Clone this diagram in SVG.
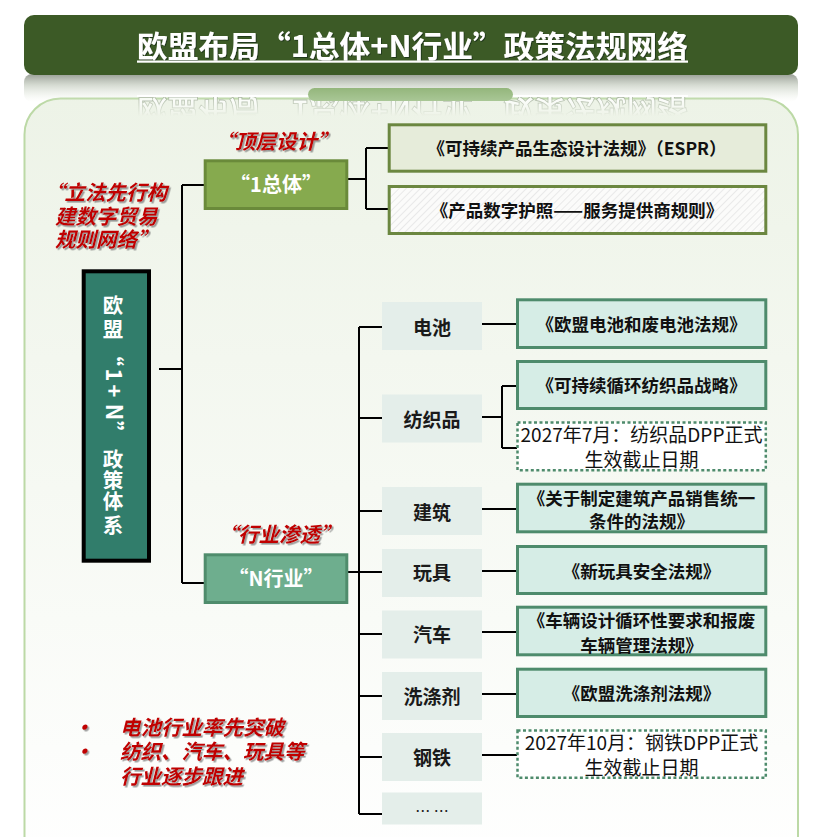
<svg xmlns="http://www.w3.org/2000/svg" width="826" height="837" viewBox="0 0 826 837">
<defs>
<linearGradient id="panelG" x1="0" y1="0" x2="0" y2="1">
<stop offset="0" stop-color="#edf3e7"/>
<stop offset="1" stop-color="#ffffff"/>
</linearGradient>
<linearGradient id="shadowG" x1="0" y1="0" x2="0" y2="1">
<stop offset="0" stop-color="#8e948a" stop-opacity="0.9"/>
<stop offset="0.4" stop-color="#c4ccbf" stop-opacity="0.7"/>
<stop offset="1" stop-color="#e6ede0" stop-opacity="0"/>
</linearGradient>
<linearGradient id="reflG" x1="0" y1="0" x2="0" y2="1">
<stop offset="0" stop-color="#fff" stop-opacity="0.95"/>
<stop offset="1" stop-color="#fff" stop-opacity="0"/>
</linearGradient>
<linearGradient id="pillG" x1="0" y1="0" x2="0" y2="1">
<stop offset="0" stop-color="#94b67c"/>
<stop offset="1" stop-color="#a9c796"/>
</linearGradient>
<mask id="reflM" maskUnits="userSpaceOnUse" x="0" y="0" width="826" height="837">
<rect x="0" y="97" width="826" height="19" fill="url(#reflG)"/>
</mask>
<pattern id="hatch" patternUnits="userSpaceOnUse" width="5" height="5" patternTransform="rotate(45)">
<rect width="5" height="5" fill="#fbfbfa"/>
<line x1="0" y1="0" x2="0" y2="5" stroke="#d8d8d8" stroke-width="1"/>
</pattern>
<filter id="sh" x="-10%" y="-20%" width="130%" height="150%">
<feDropShadow dx="1.6" dy="1.6" stdDeviation="0.6" flood-color="#7a7a7a" flood-opacity="0.75"/>
</filter>
<filter id="tsh" x="-5%" y="-20%" width="110%" height="150%">
<feDropShadow dx="1" dy="1" stdDeviation="0.5" flood-color="#1d2e12" flood-opacity="0.8"/>
</filter>
</defs>
<style>
text { font-family: "Noto Sans CJK SC", "Noto Sans", sans-serif; }
.law { font-size: 17.5px; font-weight: bold; fill: #111; text-anchor: middle; }
.note { font-size: 19px; font-weight: normal; fill: #111; text-anchor: middle; }
.cat { font-size: 19px; font-weight: bold; fill: #1a1a1a; text-anchor: middle; }
.red { font-size: 20.5px; font-weight: bold; font-style: italic; fill: #c00000; filter: url(#sh); }
.wt { font-weight: bold; fill: #ffffff; text-anchor: middle; }
.catbox { fill: #e4eeea; }
.lawbox { fill: #d6ede6; stroke: #4e8b6c; stroke-width: 3; }
.dotbox { fill: #ffffff; stroke: #4e8b6c; stroke-width: 2.5; stroke-dasharray: 3 2.5; }
.olive { stroke: #6b8740; stroke-width: 3; }
.conn { stroke: #000; stroke-width: 2; fill: none; }
.tick { stroke: #9a9a9a; stroke-width: 2; }
</style>

<!-- panel -->
<rect x="24.5" y="98.5" width="773.5" height="780" rx="36" fill="url(#panelG)" stroke="#bcd9a6" stroke-width="2"/>
<!-- shadow/reflection of title bar -->
<rect x="24" y="74" width="774" height="28" rx="8" fill="url(#shadowG)"/>
<line x1="137" y1="96" x2="688" y2="96" stroke="#ffffff" stroke-width="2"/>
<g mask="url(#reflM)">
<text x="137" y="57" textLength="551" lengthAdjust="spacingAndGlyphs" transform="translate(0,157) scale(1,-1)" font-size="30" font-weight="bold" fill="#ffffff" stroke="#aab5a3" stroke-width="0.8">欧盟布局“1总体+N行业”政策法规网络</text>
</g>
<rect x="308" y="88" width="205" height="13" rx="6.5" fill="url(#pillG)"/>

<!-- title bar -->
<g id="title">
<rect x="24" y="15" width="774" height="60" rx="10" fill="#3c5a26"/>
<text x="137" y="56.5" textLength="551" lengthAdjust="spacingAndGlyphs" font-size="30" font-weight="bold" fill="#ffffff" filter="url(#tsh)">欧盟布局“1总体+N行业”政策法规网络</text>
<rect x="137" y="60.5" width="551" height="2.2" fill="#ffffff"/>
</g>

<!-- connectors -->
<g id="connectors">
<path class="conn" d="M159,369 H182 M182,185 V583 M182,185 H205 M182,583 H205"/>
<path class="conn" d="M348,179 H366 M366,148 V209 M366,148 H389 M366,209 H389"/>
<path class="conn" d="M348,572 H359 M359,327 V814 M359,327 H382 M359,418 H382 M359,511 H382 M359,572 H382 M359,634 H382 M359,696 H382 M359,757 H382 M359,814 H382"/>
<path class="conn" d="M482,324 H517 M482,417 H502 M502,386 V448 M502,386 H517 M502,448 H517 M482,509 H517 M482,571 H517 M482,632 H517 M482,694 H517 M482,755 H517"/>
<path class="tick" d="M477,324 H482 M477,417 H482 M477,509 H482 M477,571 H482 M477,632 H482 M477,694 H482 M477,755 H482"/>
</g>

<!-- root -->
<g id="root">
<rect x="83.7" y="271.3" width="65.3" height="289.4" fill="#317d6b" stroke="#000" stroke-width="4"/>
<g class="wt" font-size="20.5">
<text x="113" y="313">欧</text>
<text x="113" y="337">盟</text>
<text transform="translate(113,355) rotate(90)" y="8" font-size="22">“</text>
<text transform="translate(113,375) rotate(90)" y="7.5" font-size="22">1</text>
<text transform="translate(113,391) rotate(90)" y="7.5" font-size="22">+</text>
<text transform="translate(113,412) rotate(90)" y="7.5" font-size="22">N</text>
<text transform="translate(113,432) rotate(90)" y="8" font-size="22">”</text>
<text x="113" y="466.5">政</text>
<text x="113" y="487.5">策</text>
<text x="113" y="508.5">体</text>
<text x="113" y="533">系</text>
</g>
</g>

<!-- red annotations -->
<g id="annotations">
<text class="red" x="276" y="148.5" text-anchor="middle" font-size="20">“顶层设计”</text>
<text class="red" x="44" y="200">“立法先行构</text>
<text class="red" x="55" y="224">建数字贸易</text>
<text class="red" x="55" y="247">规则网络”</text>
<text class="red" x="279" y="542" text-anchor="middle" font-size="20">“行业渗透”</text>
<text class="red" x="83" y="735" text-anchor="middle">•</text>
<text class="red" x="120" y="735">电池行业率先突破</text>
<text class="red" x="83" y="759" text-anchor="middle">•</text>
<text class="red" x="120" y="759">纺织、汽车、玩具等</text>
<text class="red" x="120" y="784">行业逐步跟进</text>
</g>

<!-- level 1 -->
<g id="n-1">
<rect x="205.2" y="160.8" width="141.6" height="47.7" fill="#86aa4e" stroke="#6a8a3a" stroke-width="3"/>
<text class="wt" x="276" y="191.5" font-size="20">“1总体”</text>
</g>
<g id="n-N">
<rect x="205.2" y="554.8" width="141.6" height="47.7" fill="#6eae8e" stroke="#4f8c6c" stroke-width="3"/>
<text class="wt" x="276" y="585.5" font-size="20">“N行业”</text>
</g>

<!-- 1 总体 laws -->
<g id="espr">
<rect class="olive" x="389.2" y="124.8" width="376.6" height="46.4" fill="#e6ecda"/>
<text class="law" x="577" y="154.5" font-size="18">《可持续产品生态设计法规》（ESPR）</text>
</g>
<g id="dpp-rule">
<rect class="olive" x="389.2" y="186.5" width="376.6" height="47" fill="url(#hatch)"/>
<text class="law" x="577" y="216.5" font-size="18">《产品数字护照——服务提供商规则》</text>
</g>

<!-- sectors -->
<g id="s-battery">
<rect class="catbox" x="382" y="302" width="100" height="48"/>
<text class="cat" x="432" y="335">电池</text>
</g>
<g id="s-textile">
<rect class="catbox" x="382" y="394.5" width="100" height="48"/>
<text class="cat" x="432" y="427">纺织品</text>
</g>
<g id="s-building">
<rect class="catbox" x="382" y="487" width="100" height="48"/>
<text class="cat" x="432" y="519.5">建筑</text>
</g>
<g id="s-toy">
<rect class="catbox" x="382" y="549" width="100" height="48"/>
<text class="cat" x="432" y="580">玩具</text>
</g>
<g id="s-car">
<rect class="catbox" x="382" y="610.5" width="100" height="48"/>
<text class="cat" x="432" y="642">汽车</text>
</g>
<g id="s-detergent">
<rect class="catbox" x="382" y="672" width="100" height="48"/>
<text class="cat" x="432" y="703.5">洗涤剂</text>
</g>
<g id="s-steel">
<rect class="catbox" x="382" y="733" width="100" height="48"/>
<text class="cat" x="432" y="765">钢铁</text>
</g>
<g id="s-more">
<rect class="catbox" x="382" y="792.5" width="100" height="32"/>
<text x="432" y="817" font-size="15" fill="#1a1a1a" text-anchor="middle">… …</text>
</g>

<!-- sector laws -->
<g id="l-battery">
<rect class="lawbox" x="517.5" y="299.8" width="248.3" height="47.7"/>
<text class="law" x="641.5" y="330.5" font-size="18">《欧盟电池和废电池法规》</text>
</g>
<g id="l-textile">
<rect class="lawbox" x="517.5" y="361.5" width="248.3" height="47"/>
<text class="law" x="641.5" y="391.5" font-size="18">《可持续循环纺织品战略》</text>
</g>
<g id="d-textile">
<rect class="dotbox" x="517.5" y="422.5" width="248.3" height="47.7"/>
<text class="note" x="641.5" y="442">2027年7月：纺织品DPP正式</text>
<text class="note" x="641.5" y="467">生效截止日期</text>
</g>
<g id="l-building">
<rect class="lawbox" x="517.5" y="484.2" width="248.3" height="47.6"/>
<text class="law" x="641.5" y="504.5">《关于制定建筑产品销售统一</text>
<text class="law" x="641.5" y="528">条件的法规》</text>
</g>
<g id="l-toy">
<rect class="lawbox" x="517.5" y="546.5" width="248.3" height="47"/>
<text class="law" x="641.5" y="577.5" font-size="18">《新玩具安全法规》</text>
</g>
<g id="l-car">
<rect class="lawbox" x="517.5" y="607.2" width="248.3" height="47.6"/>
<text class="law" x="641.5" y="626.5">《车辆设计循环性要求和报废</text>
<text class="law" x="641.5" y="651.5">车辆管理法规》</text>
</g>
<g id="l-detergent">
<rect class="lawbox" x="517.5" y="669.2" width="248.3" height="47.3"/>
<text class="law" x="641.5" y="699.5" font-size="18">《欧盟洗涤剂法规》</text>
</g>
<g id="d-steel">
<rect class="dotbox" x="517.5" y="730.5" width="248.3" height="47.3"/>
<text class="note" x="641.5" y="749.5">2027年10月：钢铁DPP正式</text>
<text class="note" x="641.5" y="774.5">生效截止日期</text>
</g>
</svg>
